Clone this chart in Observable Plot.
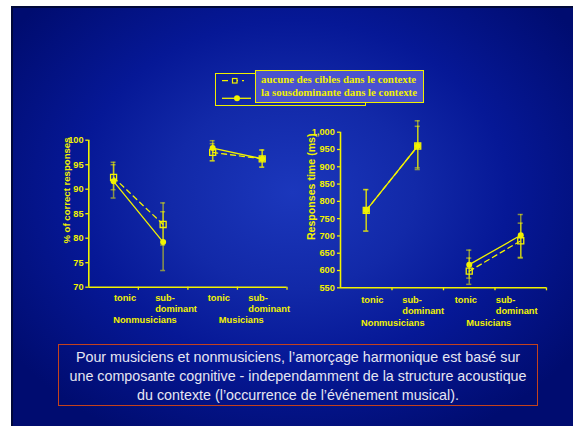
<!DOCTYPE html>
<html><head><meta charset="utf-8">
<script src="https://cdn.jsdelivr.net/npm/d3@7"></script>
<script src="https://cdn.jsdelivr.net/npm/@observablehq/plot@0.6"></script>
<style>
html,body{margin:0;padding:0;background:#fff;width:573px;height:426px;overflow:hidden;}
#slide{position:absolute;left:11px;top:6px;width:562px;height:420px;box-sizing:border-box;
  background:radial-gradient(ellipse 62% 66% at 50% 44%, #1b37bc 0%, #1229a8 35%, #061896 62%, #000c70 100%);
  border-left:2px solid #00083a;border-top:2px solid #00083a;}
.layer{position:absolute;left:0;top:0;}
#legback{position:absolute;left:215px;top:73px;width:151px;height:33px;box-sizing:border-box;border:1.5px solid #f0f000;}
#legpanel{position:absolute;left:255px;top:70px;width:169px;height:33px;box-sizing:border-box;border:1.5px solid #f0f000;background:#4a52cf;
  font:bold 10.8px "Liberation Serif","Times New Roman",serif;color:#f0f000;padding:2px 0 0 5px;line-height:13.3px;white-space:nowrap;}
#legsym{position:absolute;left:0;top:0;}
#caption{position:absolute;left:58px;top:344px;width:480px;height:62px;box-sizing:border-box;border:1.5px solid #c4421c;
  font:14.3px "Liberation Sans",Arial,sans-serif;color:#e6e6f2;text-align:center;line-height:18.8px;padding:3px 10px 0 10px;}
</style></head><body>
<div id="slide"></div>
<div id="left" class="layer"></div>
<div id="right" class="layer"></div>
<div id="legback"></div>
<div id="legpanel"></div>
<svg id="legsym" width="573" height="426"></svg>
<div id="caption"></div>
<script>
// ---- data ----
const groups = ["Nonmusicians", "Musicians"];
const conditions = ["tonic", "sub-\ndominant"];
const seriesNames = ["aucune des cibles dans le contexte", "la sousdominante dans le contexte"];
const captionText = "Pour musiciens et nonmusiciens, l\u2019amorçage harmonique est basé sur une composante cognitive - independamment de la structure acoustique du contexte (l\u2019occurrence de l\u2019événement musical).";

const accLabel = "% of correct responses";
const accTicks = [70, 75, 80, 85, 90, 95, 100];
const accNone   = [92.4, 82.8, 97.5, 96.2];
const accNoneLo = [89.9, 78.6, 95.8, 94.5];
const accNoneHi = [95.5, 87.2, 99.3, 98.0];
const accSub    = [91.6, 79.2, 98.4, 96.2];
const accSubLo  = [88.2, 73.4, 95.8, 94.5];
const accSubHi  = [95.0, 85.4, 99.9, 98.0];

const rtLabel = "Responses time (ms)";
const rtTicks = [550, 600, 650, 700, 750, 800, 850, 900, 950, 1000];
const rtNone   = [774, 960, 598, 686];
const rtNoneLo = [714, 897, 560, 636];
const rtNoneHi = [834, 1017, 636, 737];
const rtSub    = [774, 960, 617, 702];
const rtSubLo  = [714, 892, 578, 638];
const rtSubHi  = [834, 1033, 659, 762];

// ---- helpers ----
const YEL = "#f2f200";
function rows(v, lo, hi) {
  const out = [];
  groups.forEach((g, gi) => conditions.forEach((c, ci) => {
    const i = gi * conditions.length + ci;
    out.push({group: g, gi, ci, cond: c, pos: i + 0.5, v: v[i], lo: lo[i], hi: hi[i]});
  }));
  return out;
}
function errMarks(data) {
  const o = {stroke: YEL, strokeOpacity: 0.55, strokeWidth: 1.5};
  return [
    Plot.ruleX(data, {x: "pos", y1: "lo", y2: "hi", ...o}),
    Plot.ruleY(data, {y: "lo", x1: d => d.pos - 0.05, x2: d => d.pos + 0.05, ...o}),
    Plot.ruleY(data, {y: "hi", x1: d => d.pos - 0.05, x2: d => d.pos + 0.05, ...o})
  ];
}
function chart(cfg) {
  const none = rows(cfg.none, cfg.noneLo, cfg.noneHi);
  const sub = rows(cfg.sub, cfg.subLo, cfg.subHi);
  const ticks = cfg.ticks;
  const nb = groups.length * conditions.length;
  const xt = d3.range(1, nb + 1);
  const labelMarks = [];
  none.forEach(d => {
    labelMarks.push(Plot.text([d], {
      x: "pos", text: "cond", frameAnchor: "bottom", lineAnchor: "top", textAnchor: "start",
      dy: cfg.condDy, dx: cfg.condDx[d.gi][d.ci], lineHeight: cfg.lh, fill: YEL, fontSize: 9.3, fontWeight: "bold"
    }));
  });
  groups.forEach((g, gi) => {
    labelMarks.push(Plot.text([g], {
      x: [gi * conditions.length + conditions.length / 2], text: d => d, frameAnchor: "bottom", lineAnchor: "bottom",
      dy: cfg.groupDy, dx: cfg.groupDx[gi], fill: YEL, fontSize: 9.3, fontWeight: "bold"
    }));
  });
  return Plot.plot({
    width: 573, height: 426,
    marginLeft: cfg.ml, marginRight: 573 - cfg.mr, marginTop: cfg.mt, marginBottom: 426 - cfg.mb,
    x: {domain: [0, nb]},
    y: {domain: [ticks[0], ticks[ticks.length - 1]]},
    style: {background: "transparent", color: YEL, fontFamily: "'Liberation Sans', Arial, sans-serif", overflow: "visible"},
    marks: [
      Plot.axisY(ticks, {tickSize: 3, tickPadding: cfg.tp, label: null, fontSize: 9.2, fontWeight: "bold", strokeWidth: 1.3}),
      Plot.axisX(xt, {tickSize: 3, tickFormat: () => "", label: null, strokeWidth: 1.3}),
      Plot.ruleX([0], {y1: ticks[0], y2: ticks[ticks.length - 1], stroke: YEL, strokeWidth: 1.6}),
      Plot.ruleY([ticks[0]], {stroke: YEL, strokeWidth: 1.6}),
      ...errMarks(none),
      ...errMarks(sub),
      Plot.line(none, {x: "pos", y: "v", z: "group", stroke: YEL, strokeWidth: 1.3, strokeDasharray: "5,4"}),
      Plot.line(sub, {x: "pos", y: "v", z: "group", stroke: YEL, strokeWidth: 1.3}),
      Plot.dot(none, {x: "pos", y: "v", symbol: "square", r: 3.4, stroke: YEL, fill: "none", strokeWidth: 1.3}),
      Plot.dot(sub, {x: "pos", y: "v", symbol: "circle", r: 3, fill: YEL, stroke: "none"}),
      Plot.text([cfg.title], {frameAnchor: "top-left", rotate: -90, textAnchor: "end", dx: cfg.titleDx, dy: cfg.titleDy,
        fill: YEL, fontSize: cfg.titleSize, fontWeight: "bold"}),
      ...labelMarks
    ]
  });
}

document.getElementById("left").append(chart({
  none: accNone, noneLo: accNoneLo, noneHi: accNoneHi, sub: accSub, subLo: accSubLo, subHi: accSubHi,
  ticks: accTicks, title: accLabel, ml: 88.3, mr: 286.5, mt: 139.7, mb: 286.7, tp: 2.3,
  condDy: 6.7, condDx: [[0.3, -8], [-5, -14]], lh: 1.12, groupDy: 35.6, groupDx: [6.6, 3.8],
  titleDx: -26, titleDy: -2.7, titleSize: 9.6
}));
document.getElementById("right").append(chart({
  none: rtNone, noneLo: rtNoneLo, noneHi: rtNoneHi, sub: rtSub, subLo: rtSubLo, subHi: rtSubHi,
  ticks: rtTicks, title: rtLabel, ml: 340, mr: 546, mt: 131.7, mb: 287.3, tp: 2.7,
  condDy: 7.1, condDx: [[-5, -15.5], [-14.5, -25]], lh: 1.2, groupDy: 37.7, groupDx: [0.8, -6.2],
  titleDx: -33.5, titleDy: 1.3, titleSize: 10.6
}));

// legend
document.getElementById("legpanel").innerHTML = seriesNames.join("<br>");
const ls = d3.select("#legsym");
ls.append("line").attr("x1", 222).attr("x2", 244).attr("y1", 80.7).attr("y2", 80.7)
  .attr("stroke", YEL).attr("stroke-width", 1.3).attr("stroke-dasharray", "6,4");
ls.append("rect").attr("x", 232.5).attr("y", 78.5).attr("width", 4.5).attr("height", 4.5)
  .attr("fill", "#0a1a80").attr("stroke", YEL).attr("stroke-width", 1.2);
ls.append("line").attr("x1", 222).attr("x2", 251).attr("y1", 98.3).attr("y2", 98.3)
  .attr("stroke", YEL).attr("stroke-width", 1.3);
ls.append("circle").attr("cx", 237).attr("cy", 98.3).attr("r", 3).attr("fill", YEL);

document.getElementById("caption").textContent = captionText;
</script>
</body></html>
